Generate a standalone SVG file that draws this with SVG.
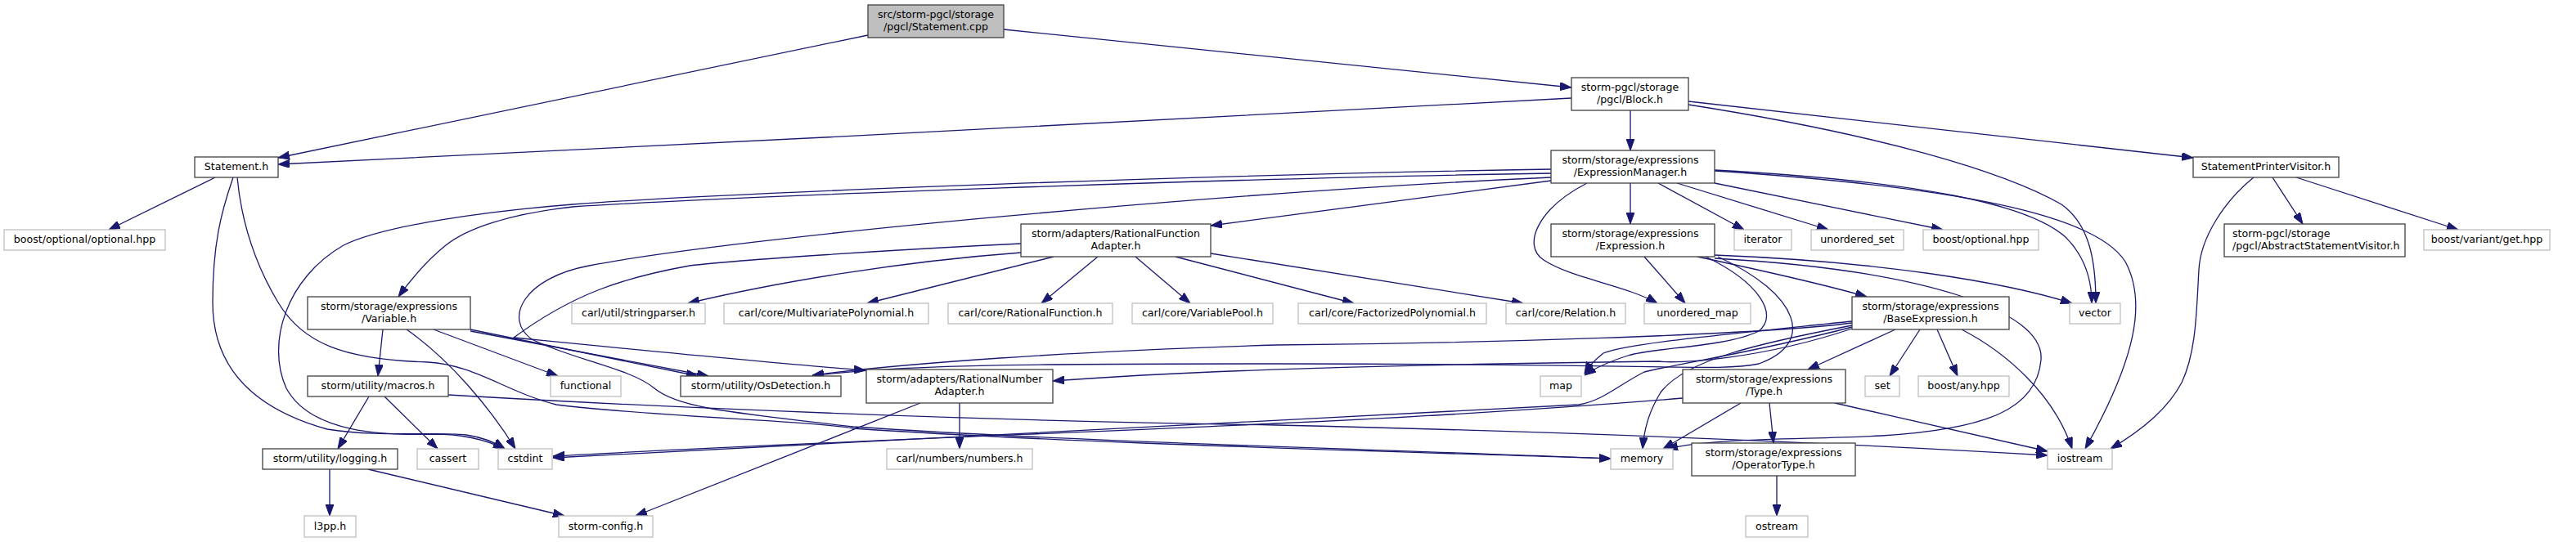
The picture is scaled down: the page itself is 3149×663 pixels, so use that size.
<svg xmlns="http://www.w3.org/2000/svg" width="3149" height="663" viewBox="0 0 3149 663">
<style>
.n rect{fill:#fff;stroke:#404040;stroke-width:1.3}
.x rect{fill:#fff;stroke:#bfbfbf;stroke-width:1.3}
.m rect{fill:#bfbfbf;stroke:#404040;stroke-width:1.3}
text{font-family:"DejaVu Sans","Liberation Sans",sans-serif;font-size:12.6px;fill:#000;text-anchor:middle}
.e path{fill:none;stroke:#191970;stroke-width:1.3;marker-end:url(#a)}
</style>
<defs>
<marker id="a" markerUnits="userSpaceOnUse" markerWidth="14" markerHeight="10" refX="14" refY="5" orient="auto" viewBox="0 0 14 10">
<path d="M0,0 L14,5 L0,10 z" fill="#191970" stroke="#191970" stroke-width="1"/>
</marker>
</defs>
<rect width="3149" height="663" fill="#fff"/>
<g class="e" id="edges">
<path d="M1061,43 L340,193"/>
<path d="M1227,36 L1921,107"/>
<path d="M1921,120 C1600,137 800,180 340,201"/>
<path d="M1993,135 L1993,184"/>
<path d="M2064,124 L2681,193"/>
<path d="M2064,128 C2300,165 2450,210 2520,250 C2555,275 2562,320 2562,371"/>
<path d="M1993,224 L1993,274"/>
<path d="M2027,224 L2132,281"/>
<path d="M2050,224 L2235,281"/>
<path d="M2096,224 L2375,281"/>
<path d="M2096,208 C2350,222 2480,250 2525,290 C2550,315 2557,345 2557,371"/>
<path d="M2096,209 C2380,228 2560,260 2598,320 C2625,370 2610,440 2549,549"/>
<path d="M1896,221 L1480,276"/>
<path d="M1896,207 C1500,213 900,235 700,250 C600,258 470,275 420,300 C350,340 325,420 350,475 C380,530 470,533 530,531 C565,531 592,537 617,549"/>
<path d="M1896,212 C1500,218 900,240 700,253 C620,262 570,280 545,300 C520,320 500,345 487,363"/>
<path d="M1896,217 C1500,235 900,290 720,325 C640,340 615,390 650,415 C700,440 770,450 800,475 C830,500 900,505 1043,522 C1300,540 1700,550 1969,561"/>
<path d="M263,217 L133,281"/>
<path d="M285,217 C270,260 260,300 260,370 C260,450 310,500 400,525 C460,535 530,528 570,532 C590,535 605,541 617,549"/>
<path d="M290,217 C295,270 310,320 340,370 C370,420 420,440 523,443 C580,446 620,480 680,495 C800,510 1000,515 1043,524 C1300,542 1700,552 1969,561"/>
<path d="M468,403 L462,460"/>
<path d="M530,403 L682,460"/>
<path d="M497,403 C550,440 600,500 630,549"/>
<path d="M575,403 L853,460"/>
<path d="M575,405 L866,460"/>
<path d="M451,485 L413,549"/>
<path d="M470,485 L535,549"/>
<path d="M548,483 C800,498 1200,515 1560,520 C2000,530 2300,545 2503,557"/>
<path d="M403,574 L403,631"/>
<path d="M450,574 L690,631"/>
<path d="M1173,493 L1173,549"/>
<path d="M1125,493 L777,631"/>
<path d="M1248,309 C1100,320 950,345 841,371"/>
<path d="M1288,314 L1060,371"/>
<path d="M1342,314 L1273,371"/>
<path d="M1388,314 L1455,371"/>
<path d="M1437,314 L1655,371"/>
<path d="M1480,310 L1862,371"/>
<path d="M1248,298 C1100,305 900,318 843,325 C760,340 700,360 628,413 C800,430 950,445 1058,453"/>
<path d="M2010,314 L2060,371"/>
<path d="M1940,224 C1880,255 1860,300 1887,318 C1920,340 1990,350 2026,371"/>
<path d="M2075,314 C2150,330 2230,348 2282,363"/>
<path d="M2096,312 C2300,320 2450,345 2533,371"/>
<path d="M2096,316 C2350,330 2500,380 2495,440 C2490,500 2430,525 2300,533 C2200,538 2100,535 2037,549"/>
<path d="M2085,314 C2150,345 2175,385 2150,405 C2110,425 2020,425 1990,435 C1965,443 1950,450 1937,459"/>
<path d="M2100,314 C2200,360 2220,420 2150,445 C2100,455 2050,445 1560,445 C1300,445 1100,445 993,460"/>
<path d="M2317,403 L2210,452"/>
<path d="M2347,403 L2310,460"/>
<path d="M2368,403 L2393,460"/>
<path d="M2398,403 C2450,430 2510,480 2533,549"/>
<path d="M2264,398 C2150,420 2060,440 2030,480 C2015,505 2010,525 2008,549"/>
<path d="M2264,393 C2100,410 1990,420 1960,432 C1950,440 1942,448 1937,457"/>
<path d="M2264,400 C2150,430 2050,445 2010,455 C1980,470 1960,490 1930,495 C1700,510 1200,530 676,560"/>
<path d="M2264,402 C2150,440 2050,445 2027,442 C1800,445 1500,450 1287,466"/>
<path d="M2264,395 C2150,410 1800,420 1560,422 C1300,430 1100,445 993,459"/>
<path d="M2163,493 L2168,542"/>
<path d="M2243,493 L2503,552"/>
<path d="M2128,493 L2033,549"/>
<path d="M2057,487 C1900,500 1700,512 1560,518 C1300,530 900,545 676,558"/>
<path d="M2778,217 L2815,274"/>
<path d="M2807,217 L3005,281"/>
<path d="M2755,217 C2720,245 2690,290 2688,330 C2685,380 2685,430 2667,468 C2650,500 2620,525 2580,549"/>
<path d="M2172,582 L2172,631"/>
</g>
<g id="n_cpp" class="m"><rect x="1061" y="6" width="166" height="40"/><text x="1144" y="22">src/storm-pgcl/storage</text><text x="1144" y="37">/pgcl/Statement.cpp</text></g>
<g id="n_statement" class="n"><rect x="238" y="192" width="102" height="25"/><text x="289" y="208">Statement.h</text></g>
<g id="n_block" class="n"><rect x="1921" y="95" width="143" height="40"/><text x="1992.5" y="111">storm-pgcl/storage</text><text x="1992.5" y="126">/pgcl/Block.h</text></g>
<g id="n_spv" class="n"><rect x="2681" y="192" width="178" height="25"/><text x="2770" y="208">StatementPrinterVisitor.h</text></g>
<g id="n_em" class="n"><rect x="1896" y="184" width="200" height="40"/><text x="1993" y="200">storm/storage/expressions</text><text x="1993" y="215">/ExpressionManager.h</text></g>
<g id="n_expr" class="n"><rect x="1896" y="274" width="200" height="40"/><text x="1993" y="290">storm/storage/expressions</text><text x="1993" y="305">/Expression.h</text></g>
<g id="n_iterator" class="x"><rect x="2120" y="281" width="70" height="25"/><text x="2155" y="297">iterator</text></g>
<g id="n_uset" class="x"><rect x="2214" y="281" width="113" height="25"/><text x="2270.5" y="297">unordered_set</text></g>
<g id="n_bopt" class="x"><rect x="2351" y="281" width="141" height="25"/><text x="2421.5" y="297">boost/optional.hpp</text></g>
<g id="n_abs" class="n"><rect x="2719" y="274" width="221" height="40"/><text x="2729" y="290" style="text-anchor:start">storm-pgcl/storage</text><text x="2729" y="305" style="text-anchor:start">/pgcl/AbstractStatementVisitor.h</text></g>
<g id="n_bvar" class="x"><rect x="2963" y="281" width="154" height="25"/><text x="3040" y="297">boost/variant/get.hpp</text></g>
<g id="n_bopt2" class="x"><rect x="5" y="281" width="197" height="25"/><text x="103.5" y="297">boost/optional/optional.hpp</text></g>
<g id="n_rfa" class="n"><rect x="1248" y="274" width="232" height="40"/><text x="1364" y="290">storm/adapters/RationalFunction</text><text x="1364" y="305">Adapter.h</text></g>
<g id="n_var" class="n"><rect x="376" y="363" width="199" height="40"/><text x="475.5" y="379">storm/storage/expressions</text><text x="475.5" y="394">/Variable.h</text></g>
<g id="n_sp" class="x"><rect x="699" y="371" width="163" height="25"/><text x="780.5" y="387">carl/util/stringparser.h</text></g>
<g id="n_mvp" class="x"><rect x="885" y="371" width="250" height="25"/><text x="1010" y="387">carl/core/MultivariatePolynomial.h</text></g>
<g id="n_rf" class="x"><rect x="1159" y="371" width="201" height="25"/><text x="1259.5" y="387">carl/core/RationalFunction.h</text></g>
<g id="n_vp" class="x"><rect x="1384" y="371" width="172" height="25"/><text x="1470" y="387">carl/core/VariablePool.h</text></g>
<g id="n_fp" class="x"><rect x="1587" y="371" width="230" height="25"/><text x="1702" y="387">carl/core/FactorizedPolynomial.h</text></g>
<g id="n_rel" class="x"><rect x="1841" y="371" width="146" height="25"/><text x="1914" y="387">carl/core/Relation.h</text></g>
<g id="n_umap" class="x"><rect x="2010" y="371" width="130" height="25"/><text x="2075" y="387">unordered_map</text></g>
<g id="n_base" class="n"><rect x="2264" y="363" width="192" height="40"/><text x="2360" y="379">storm/storage/expressions</text><text x="2360" y="394">/BaseExpression.h</text></g>
<g id="n_vector" class="x"><rect x="2530" y="371" width="62" height="25"/><text x="2561" y="387">vector</text></g>
<g id="n_macros" class="n"><rect x="376" y="460" width="172" height="25"/><text x="462" y="476">storm/utility/macros.h</text></g>
<g id="n_func" class="x"><rect x="673" y="460" width="86" height="25"/><text x="716" y="476">functional</text></g>
<g id="n_os" class="n"><rect x="832" y="460" width="196" height="25"/><text x="930" y="476">storm/utility/OsDetection.h</text></g>
<g id="n_rna" class="n"><rect x="1059" y="452" width="228" height="41"/><text x="1173" y="468">storm/adapters/RationalNumber</text><text x="1173" y="483">Adapter.h</text></g>
<g id="n_map" class="x"><rect x="1883" y="460" width="50" height="25"/><text x="1908" y="476">map</text></g>
<g id="n_type" class="n"><rect x="2057" y="452" width="199" height="41"/><text x="2156.5" y="468">storm/storage/expressions</text><text x="2156.5" y="483">/Type.h</text></g>
<g id="n_set" class="x"><rect x="2280" y="460" width="42" height="25"/><text x="2301" y="476">set</text></g>
<g id="n_any" class="x"><rect x="2345" y="460" width="111" height="25"/><text x="2400.5" y="476">boost/any.hpp</text></g>
<g id="n_log" class="n"><rect x="321" y="549" width="165" height="25"/><text x="403.5" y="565">storm/utility/logging.h</text></g>
<g id="n_cassert" class="x"><rect x="510" y="549" width="75" height="25"/><text x="547.5" y="565">cassert</text></g>
<g id="n_cstdint" class="x"><rect x="609" y="549" width="66" height="25"/><text x="642" y="565">cstdint</text></g>
<g id="n_numbers" class="x"><rect x="1084" y="549" width="178" height="25"/><text x="1173" y="565">carl/numbers/numbers.h</text></g>
<g id="n_memory" class="x"><rect x="1969" y="549" width="76" height="25"/><text x="2007" y="565">memory</text></g>
<g id="n_op" class="n"><rect x="2068" y="542" width="200" height="40"/><text x="2168" y="558">storm/storage/expressions</text><text x="2168" y="573">/OperatorType.h</text></g>
<g id="n_iostream" class="x"><rect x="2503" y="549" width="79" height="25"/><text x="2542.5" y="565">iostream</text></g>
<g id="n_l3pp" class="x"><rect x="372" y="631" width="63" height="26"/><text x="403.5" y="648">l3pp.h</text></g>
<g id="n_config" class="x"><rect x="683" y="631" width="115" height="26"/><text x="740.5" y="648">storm-config.h</text></g>
<g id="n_ostream" class="x"><rect x="2134" y="631" width="76" height="26"/><text x="2172" y="648">ostream</text></g>
</svg>
